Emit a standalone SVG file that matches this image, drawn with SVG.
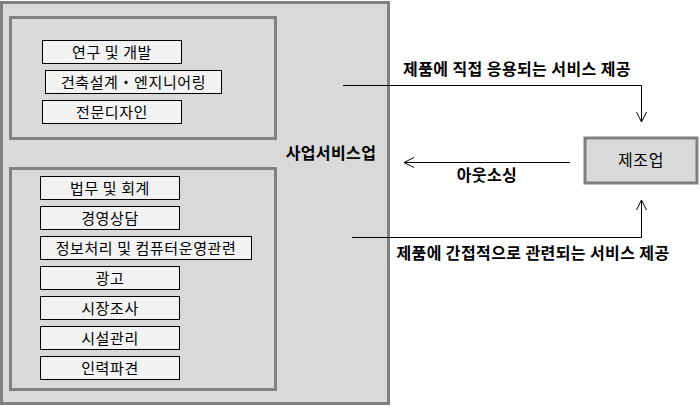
<svg xmlns="http://www.w3.org/2000/svg" width="700" height="406" viewBox="0 0 700 406">
<defs>
<style>
.grp{fill:#d9d9d9;stroke:#808080;stroke-width:3}
.item{fill:#f2f2f2;stroke:#000;stroke-width:1}
.t{font-family:"Noto Sans CJK KR","Malgun Gothic",sans-serif;font-size:15px;letter-spacing:0.6px;fill:#000;text-anchor:middle}
.b{font-family:"Noto Sans CJK KR","Malgun Gothic",sans-serif;font-size:16px;letter-spacing:0.4px;font-weight:bold;fill:#000;text-anchor:middle}
.ln{fill:none;stroke:#000;stroke-width:1}
</style>
<marker id="ah" viewBox="0 0 12 12" refX="11" refY="6" markerWidth="12" markerHeight="12" markerUnits="userSpaceOnUse" orient="auto">
<path d="M1,1 L11,6 L1,11" fill="none" stroke="#000" stroke-width="1"/>
</marker>
</defs>
<rect width="700" height="406" fill="#fff"/>
<g id="business-services">
<rect class="grp" x="1.5" y="2.5" width="387" height="401"/>
<text class="b" x="331" y="159">사업서비스업</text>
</g>
<g id="direct-group">
<rect class="grp" x="10.5" y="17.5" width="265" height="121"/>
</g>
<g id="rnd"><rect class="item" x="42.5" y="40.5" width="139" height="23"/><text class="t" x="112" y="57.5">연구 및 개발</text></g>
<g id="architecture"><rect class="item" x="45.5" y="70.5" width="176" height="23"/><text class="t" x="133.5" y="87.5">건축설계・엔지니어링</text></g>
<g id="design"><rect class="item" x="42.5" y="100.5" width="139" height="23"/><text class="t" x="112" y="117.5">전문디자인</text></g>
<g id="indirect-group">
<rect class="grp" x="10.5" y="168.5" width="265" height="221"/>
</g>
<g id="legal"><rect class="item" x="40.5" y="176.5" width="139" height="23"/><text class="t" x="110" y="193.5">법무 및 회계</text></g>
<g id="consulting"><rect class="item" x="40.5" y="206.5" width="139" height="23"/><text class="t" x="110" y="223.5">경영상담</text></g>
<g id="it"><rect class="item" x="40.5" y="236.5" width="211" height="23"/><text class="t" x="146" y="253.5">정보처리 및 컴퓨터운영관련</text></g>
<g id="ads"><rect class="item" x="40.5" y="266.5" width="139" height="23"/><text class="t" x="110" y="283.5">광고</text></g>
<g id="research"><rect class="item" x="40.5" y="296.5" width="139" height="23"/><text class="t" x="110" y="313.5">시장조사</text></g>
<g id="facility"><rect class="item" x="40.5" y="326.5" width="139" height="23"/><text class="t" x="110" y="343.5">시설관리</text></g>
<g id="staffing"><rect class="item" x="40.5" y="356.5" width="139" height="23"/><text class="t" x="110" y="373.5">인력파견</text></g>
<g id="manufacturing">
<rect class="grp" x="585" y="138" width="112" height="45"/>
<text class="t" style="font-size:16px" x="641" y="166">제조업</text>
</g>
<g id="connectors">
<path class="ln" d="M343,85.5 H641.5 V122" marker-end="url(#ah)"/>
<path class="ln" d="M570,162.5 H404" marker-end="url(#ah)"/>
<path class="ln" d="M352,237.5 H641.5 V200" marker-end="url(#ah)"/>
<text class="b" x="517" y="75">제품에 직접 응용되는 서비스 제공</text>
<text class="b" x="487" y="181">아웃소싱</text>
<text class="b" x="533" y="259">제품에 간접적으로 관련되는 서비스 제공</text>
</g>
</svg>
